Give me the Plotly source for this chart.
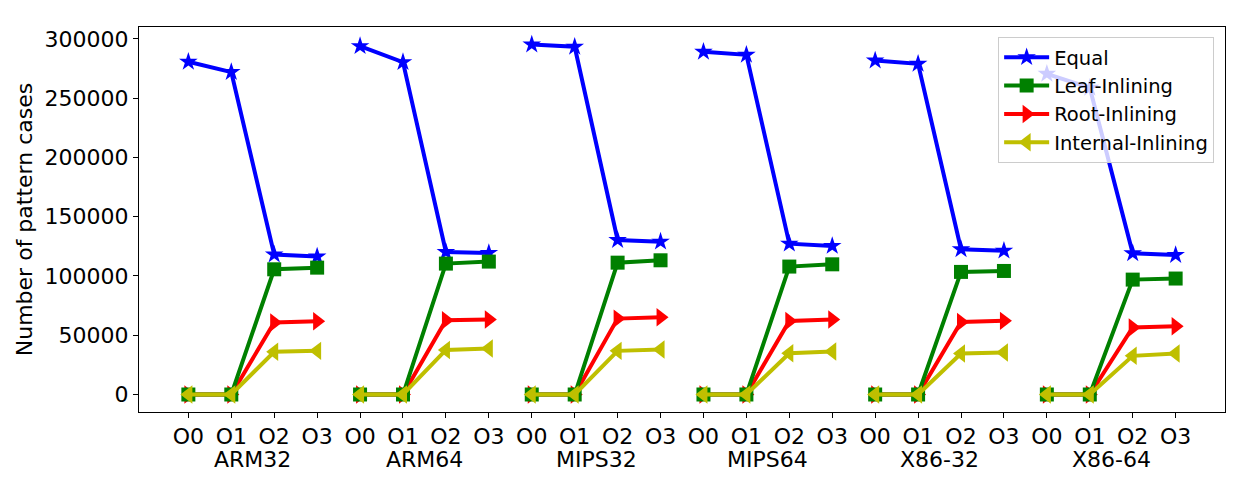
import plotly.graph_objects as go

archs = ["ARM32", "ARM64", "MIPS32", "MIPS64", "X86-32", "X86-64"]
levels = ["O0", "O1", "O2", "O3"]

# number of pattern cases per arch, O0..O3
equal = [
    [280600, 271900, 118000, 116300],
    [293800, 280300, 120200, 119400],
    [295200, 293300, 130300, 128900],
    [289000, 286500, 127200, 125300],
    [281700, 278900, 122500, 121300],
    [270500, 258700, 119100, 117700],
]
leaf = [
    [0, 0, 105600, 107000],
    [0, 0, 110400, 112100],
    [0, 0, 111200, 113200],
    [0, 0, 107900, 109800],
    [0, 0, 103400, 104200],
    [0, 0, 96900, 97800],
]
root = [
    [0, 0, 60700, 61800],
    [0, 0, 62600, 63200],
    [0, 0, 64000, 65200],
    [0, 0, 62000, 63200],
    [0, 0, 61200, 62100],
    [0, 0, 56500, 57600],
]
internal = [
    [0, 0, 36000, 36800],
    [0, 0, 37600, 38800],
    [0, 0, 36800, 37900],
    [0, 0, 34800, 36200],
    [0, 0, 34600, 35400],
    [0, 0, 32600, 34600],
]

# drawing order (root under leaf at zero), legend order set by rank
series = [
    ("Equal", equal, "#0000ff", "star", 14, 1),
    ("Root-Inlining", root, "#ff0000", "triangle-right", 16, 3),
    ("Leaf-Inlining", leaf, "#008000", "square", 14, 2),
    ("Internal-Inlining", internal, "#bfbf00", "triangle-left", 16, 4),
]

n = len(levels)
fig = go.Figure()
for name, vals, color, sym, msize, rank in series:
    xs, ys = [], []
    for g, row in enumerate(vals):
        xs += [g * n + i for i in range(n)] + [None]
        ys += row + [None]
    fig.add_trace(go.Scatter(
        x=xs, y=ys, name=name, mode="lines+markers", legendrank=rank,
        line=dict(color=color, width=4),
        marker=dict(symbol=sym, size=msize, color=color, line=dict(width=0)),
        connectgaps=False,
    ))

# group names under the O0..O3 ticks
for g, a in enumerate(archs):
    fig.add_annotation(x=g * n + 1.5, y=0, xref="x", yref="paper",
                       text=a, showarrow=False, yanchor="middle", yshift=-47,
                       font=dict(size=22, color="black"))

axis_common = dict(showgrid=False, zeroline=False, showline=True, linecolor="black",
                   linewidth=1, mirror=True, ticks="outside", ticklen=5,
                   tickcolor="black", tickfont=dict(size=22, color="black"),
                   automargin=False)

# page body has an 8px margin, so the figure is 16px smaller than the window
fig.update_layout(
    width=1243, height=472,
    margin=dict(l=131, r=26, t=19, b=68, autoexpand=False),
    plot_bgcolor="white", paper_bgcolor="white",
    font=dict(family="DejaVu Sans", color="black"),
    xaxis=dict(range=[-1.15, 24.15], tickmode="array",
               tickvals=list(range(n * len(archs))),
               ticktext=levels * len(archs), **axis_common),
    yaxis=dict(range=[-14760, 309960], tickmode="array",
               tickvals=[0, 50000, 100000, 150000, 200000, 250000, 300000],
               ticktext=["0", "50000", "100000", "150000", "200000", "250000", "300000"],
               title=dict(text="Number of pattern cases", font=dict(size=22), standoff=5),
               **axis_common),
    legend=dict(x=0.99, y=0.974, xanchor="right", yanchor="top",
                bgcolor="rgba(255,255,255,0.8)", bordercolor="#cccccc", borderwidth=1,
                font=dict(size=19.5), itemwidth=45, tracegroupgap=0),
    showlegend=True,
)

fig.write_html("out.html")
